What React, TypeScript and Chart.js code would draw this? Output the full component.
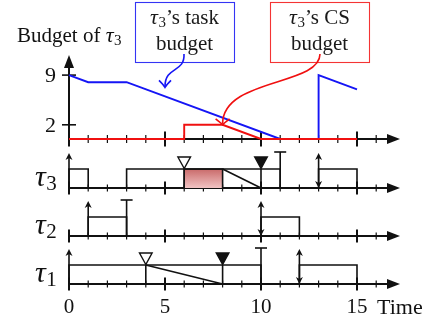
import React, { useEffect, useRef } from 'react';
import { Chart, registerables } from 'chart.js';

Chart.register(...registerables);

// ---------------- data ----------------
const TIME_LABELS = [0, 5, 10, 15];
const TIME_TICK_LAST = 16;
const BUDGET_LABELS = [2, 9];
const TASK_BUDGET_T = [0, 1, 3, 11, 13, 13, 15];
const TASK_BUDGET_V = [9, 8, 8, 0, 0, 9, 7];
const CS_BUDGET_T = [0, 6, 6, 8, 10, 15];
const CS_BUDGET_V = [0, 0, 2, 2, 0, 0];
const TASK_IDS = ['3', '2', '1'];
const RUNS = [
  [[0, 1], [3, 11], [13, 15]],
  [[1, 3], [10, 12]],
  [[0, 10], [12, 15]],
];
const RELEASES = [[0], [1], [0]];
const DEADLINES = [[11], [3], [10]];
const RELEASE_DEADLINES = [[13], [10], [12]];
const LOCKS = [[6], [], [4]];
const UNLOCKS = [[10], [], [8]];
const RAMPS = [[[8, 10]], [], [[4, 8]]];
const CRITICAL = [[[6, 8]], [], []];
const TASK_NOTE_TARGET = [5, 6];
const CS_NOTE_TARGET = [8, 2];

// ---------------- layout ----------------
const W = 430, H = 324;
const ORIGIN_X = 69, UNIT_X = 19.2;
const ORIGIN_Y = 139, UNIT_Y = 7.1;
const X_MIN = -ORIGIN_X / UNIT_X, X_MAX = (W - ORIGIN_X) / UNIT_X;
const Y_MAX = ORIGIN_Y / UNIT_Y, Y_MIN = -(H - ORIGIN_Y) / UNIT_Y;
const ROW_BASE = [188, 236, 284].map((p) => -(p - ORIGIN_Y) / UNIT_Y);
const BOX_H = 19 / UNIT_Y;
const MARK_PX = 35;
const AXIS_END = (400 - ORIGIN_X) / UNIT_X;
const Y_AXIS_TOP = (ORIGIN_Y - 55) / UNIT_Y;
const FONT = '"Liberation Serif", "Times New Roman", serif';
const BLUE = '#1515f5';
const RED = '#f01010';
const INK = '#111';
const LW = 1.6;

function runPoints(r: number) {
  const b = ROW_BASE[r], t = b + BOX_H;
  const out: any[] = [];
  RUNS[r].forEach(([s, e]) => {
    out.push({ x: s, y: b }, { x: s, y: t }, { x: e, y: t }, { x: e, y: b }, { x: e, y: null });
  });
  return out;
}
function detailPoints(r: number) {
  const b = ROW_BASE[r], t = b + BOX_H;
  const out: any[] = [];
  [...LOCKS[r], ...UNLOCKS[r]].forEach((x) => out.push({ x, y: b }, { x, y: t }, { x, y: null }));
  RAMPS[r].forEach(([s, e]) => out.push({ x: s, y: t }, { x: e, y: b }, { x: e, y: null }));
  return out;
}

function head(ctx: CanvasRenderingContext2D, tx: number, ty: number, dx: number, dy: number, len: number, half: number, notch = 1) {
  const bx = tx - dx * len, by = ty - dy * len;
  const nx = -dy, ny = dx;
  ctx.beginPath();
  ctx.moveTo(tx, ty);
  ctx.lineTo(bx + nx * half, by + ny * half);
  ctx.lineTo(tx - dx * len * notch, ty - dy * len * notch);
  ctx.lineTo(bx - nx * half, by - ny * half);
  ctx.closePath();
  ctx.fill();
}
function vHead(ctx: CanvasRenderingContext2D, tx: number, ty: number, dx: number, dy: number, len: number, half: number) {
  const bx = tx - dx * len, by = ty - dy * len;
  const nx = -dy, ny = dx;
  ctx.beginPath();
  ctx.moveTo(bx + nx * half, by + ny * half);
  ctx.quadraticCurveTo(tx - dx * len * 0.3 + nx * half * 0.2, ty - dy * len * 0.3 + ny * half * 0.2, tx, ty);
  ctx.quadraticCurveTo(tx - dx * len * 0.3 - nx * half * 0.2, ty - dy * len * 0.3 - ny * half * 0.2, bx - nx * half, by - ny * half);
  ctx.stroke();
}
function seg(ctx: CanvasRenderingContext2D, x1: number, y1: number, x2: number, y2: number) {
  ctx.beginPath();
  ctx.moveTo(x1, y1);
  ctx.lineTo(x2, y2);
  ctx.stroke();
}
function tauWidth(ctx: CanvasRenderingContext2D, size: number, sub: string, subSize: number, tail = '', tailSize = size) {
  ctx.font = `italic ${size}px ${FONT}`;
  let w = ctx.measureText('τ').width + 0.5;
  ctx.font = `${subSize}px ${FONT}`;
  w += ctx.measureText(sub).width;
  if (tail) {
    ctx.font = `${tailSize}px ${FONT}`;
    w += ctx.measureText(tail).width;
  }
  return w;
}
function tau(ctx: CanvasRenderingContext2D, x: number, base: number, size: number, sub: string, subSize: number, drop: number, tail = '', tailSize = size) {
  ctx.textAlign = 'left';
  ctx.textBaseline = 'alphabetic';
  ctx.font = `italic ${size}px ${FONT}`;
  ctx.fillText('τ', x, base);
  let cx = x + ctx.measureText('τ').width + 0.5;
  ctx.font = `${subSize}px ${FONT}`;
  ctx.fillText(sub, cx, base + drop);
  cx += ctx.measureText(sub).width;
  if (tail) {
    ctx.font = `${tailSize}px ${FONT}`;
    ctx.fillText(tail, cx, base);
    cx += ctx.measureText(tail).width;
  }
  return cx;
}

const diagram = {
  id: 'diagram',
  beforeDatasetsDraw(chart: any) {
    const { ctx } = chart;
    const xs = chart.scales.x, ys = chart.scales.y;
    const px = (v: number) => xs.getPixelForValue(v);
    const py = (v: number) => ys.getPixelForValue(v);
    ctx.save();
    ctx.strokeStyle = INK;
    ctx.fillStyle = INK;
    ctx.lineCap = 'butt';
    // budget plot axes
    const by = py(0), x0 = px(0), xe = px(AXIS_END);
    ctx.lineWidth = 2;
    seg(ctx, x0, by, xe - 8, by);
    head(ctx, xe, by, 1, 0, 13, 5);
    seg(ctx, x0, by + 7.5, x0, py(Y_AXIS_TOP) + 8);
    head(ctx, x0, py(Y_AXIS_TOP), 0, -1, 13, 5);
    for (let t = 1; t <= TIME_TICK_LAST; t++) {
      const l = t % 5 === 0 ? 7.5 : 4;
      ctx.lineWidth = t % 5 === 0 ? 2 : 1.2;
      seg(ctx, px(t), by - l, px(t), by + l);
    }
    ctx.lineWidth = 1.6;
    ctx.font = `22px ${FONT}`;
    ctx.textAlign = 'right';
    ctx.textBaseline = 'middle';
    BUDGET_LABELS.forEach((v) => {
      seg(ctx, x0 - 7, py(v), x0 + 7, py(v));
      ctx.fillText(String(v), x0 - 13, py(v) + 1);
    });
    // task axes
    ROW_BASE.forEach((b) => {
      const yb = py(b);
      ctx.lineWidth = 2;
      seg(ctx, x0, yb, xe - 8, yb);
      head(ctx, xe, yb, 1, 0, 13, 5);
      for (let t = 0; t <= TIME_TICK_LAST; t++) {
        const major = t % 5 === 0;
        ctx.lineWidth = major ? 2 : 1.2;
        const l = major ? 6.5 : 3.5;
        seg(ctx, px(t), yb - l, px(t), yb + l);
      }
    });
    ctx.restore();
  },
  afterDatasetsDraw(chart: any) {
    const { ctx } = chart;
    const xs = chart.scales.x, ys = chart.scales.y;
    const px = (v: number) => xs.getPixelForValue(v);
    const py = (v: number) => ys.getPixelForValue(v);
    ctx.save();
    ctx.strokeStyle = INK;
    ctx.fillStyle = INK;
    ROW_BASE.forEach((b, r) => {
      const yb = py(b), yt = py(b + BOX_H);
      ctx.lineWidth = LW;
      RELEASES[r].forEach((t) => {
        const x = px(t);
        seg(ctx, x, yb, x, yb - MARK_PX + 3);
        head(ctx, x, yb - MARK_PX, 0, -1, 7, 3.5, 0.7);
      });
      RELEASE_DEADLINES[r].forEach((t) => {
        const x = px(t);
        seg(ctx, x, yb - 3, x, yb - MARK_PX + 3);
        head(ctx, x, yb - MARK_PX, 0, -1, 7, 3.5, 0.7);
        head(ctx, x, yb, 0, 1, 7, 3.5, 0.7);
      });
      DEADLINES[r].forEach((t) => {
        const x = px(t);
        ctx.lineWidth = LW;
        seg(ctx, x, yb, x, yb - MARK_PX - 1);
        seg(ctx, x - 6, yb - MARK_PX - 1, x + 6, yb - MARK_PX - 1);
      });
      const tri = (t: number, filled: boolean) => {
        const x = px(t);
        ctx.beginPath();
        ctx.moveTo(x, yt - 0.5);
        ctx.lineTo(x - 6.3, yt - 12);
        ctx.lineTo(x + 6.3, yt - 12);
        ctx.closePath();
        ctx.fillStyle = filled ? INK : '#fff';
        ctx.fill();
        ctx.lineWidth = 1.4;
        ctx.stroke();
        ctx.fillStyle = INK;
      };
      LOCKS[r].forEach((t) => tri(t, false));
      UNLOCKS[r].forEach((t) => tri(t, true));
      // row label
      ctx.fillStyle = INK;
      tau(ctx, 35, yb - 2, 30, TASK_IDS[r], 21, 4);
    });

    // time labels
    ctx.fillStyle = INK;
    ctx.font = `21px ${FONT}`;
    ctx.textAlign = 'center';
    ctx.textBaseline = 'alphabetic';
    TIME_LABELS.forEach((t) => ctx.fillText(String(t), px(t), 313));
    ctx.textAlign = 'left';
    ctx.font = `22px ${FONT}`;
    ctx.fillText('Time', 377, 314);

    // budget title
    ctx.font = `21px ${FONT}`;
    ctx.fillText('Budget of ', 17, 42);
    const bw = ctx.measureText('Budget of ').width;
    tau(ctx, 17 + bw, 42, 22, '3', 15, 3);

    // annotation boxes
    const note = (left: number, right: number, color: string, line1: string) => {
      ctx.strokeStyle = color;
      ctx.lineWidth = 1.1;
      ctx.strokeRect(left + 0.5, 2.5, right - left, 60);
      const cx = (left + right) / 2;
      ctx.fillStyle = '#1a1a1a';
      const w1 = tauWidth(ctx, 22, '3', 15, line1, 21);
      tau(ctx, cx - w1 / 2, 24, 22, '3', 15, 3, line1, 21);
      ctx.font = `21px ${FONT}`;
      ctx.textAlign = 'center';
      ctx.fillText('budget', cx, 50);
      ctx.textAlign = 'left';
    };
    note(135, 234, '#3434f4', '’s task');
    note(270, 369, '#f43434', '’s CS');

    // curved arrows
    ctx.lineWidth = 1.6;
    ctx.strokeStyle = BLUE;
    const btx = px(TASK_NOTE_TARGET[0]), bty = py(TASK_NOTE_TARGET[1]) - 9;
    ctx.beginPath();
    ctx.moveTo(184, 54);
    ctx.bezierCurveTo(185, 73, btx, 66, btx, bty - 1);
    ctx.stroke();
    vHead(ctx, btx, bty, 0, 1, 7, 6);
    ctx.strokeStyle = RED;
    const rtx = px(CS_NOTE_TARGET[0]), rty = py(CS_NOTE_TARGET[1]);
    ctx.beginPath();
    ctx.moveTo(320, 54);
    ctx.bezierCurveTo(320, 86, rtx, 78, rtx, rty - 1);
    ctx.stroke();
    vHead(ctx, rtx, rty, 0, 1, 6, 7);
    ctx.restore();
  },
};

export default function App() {
  const ref = useRef<HTMLCanvasElement>(null);
  useEffect(() => {
    if (!ref.current) return;
    const datasets: any[] = [];
    datasets.push({
      data: CS_BUDGET_T.map((t, i) => ({ x: t, y: CS_BUDGET_V[i] })),
      borderColor: RED, borderWidth: 1.9, order: 0,
    });
    datasets.push({
      data: TASK_BUDGET_T.map((t, i) => ({ x: t, y: TASK_BUDGET_V[i] })),
      borderColor: BLUE, borderWidth: 1.9, order: 1,
    });
    ROW_BASE.forEach((b, r) => {
      datasets.push({ data: runPoints(r), borderColor: INK, borderWidth: LW, order: 2 });
      datasets.push({ data: detailPoints(r), borderColor: INK, borderWidth: LW, order: 2 });
      CRITICAL[r].forEach(([s, e]) => {
        const top = b + BOX_H;
        datasets.push({
          data: [{ x: s, y: b }, { x: s, y: top }, { x: e, y: top }, { x: e, y: b }],
          borderColor: INK, borderWidth: LW, order: 3,
          fill: { value: b },
          backgroundColor: (c: any) => {
            const ch = c.chart;
            if (!ch.chartArea) return 'rgba(220,140,140,1)';
            const y = ch.scales.y;
            const g = ch.ctx.createLinearGradient(0, y.getPixelForValue(top), 0, y.getPixelForValue(b));
            g.addColorStop(0, '#c96a6a');
            g.addColorStop(1, '#f1c3c3');
            return g;
          },
        });
      });
    });
    const chart = new Chart(ref.current, {
      type: 'line',
      data: { datasets },
      options: {
        animation: false,
        responsive: false,
        devicePixelRatio: 1,
        layout: { padding: 0 },
        elements: { point: { radius: 0, hoverRadius: 0 }, line: { tension: 0, fill: false } },
        spanGaps: false,
        scales: {
          x: { type: 'linear', min: X_MIN, max: X_MAX, display: false },
          y: { type: 'linear', min: Y_MIN, max: Y_MAX, display: false },
        },
        plugins: { legend: { display: false }, tooltip: { enabled: false } },
        events: [],
      } as any,
      plugins: [diagram],
    });
    return () => chart.destroy();
  }, []);
  return (
    <div style={{ position: 'fixed', left: 0, top: 0, width: W, height: H, background: '#fff' }}>
      <canvas ref={ref} width={W} height={H} style={{ display: 'block' }} />
    </div>
  );
}
